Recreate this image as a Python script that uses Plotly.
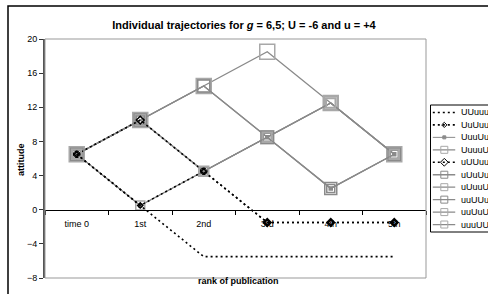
import plotly.graph_objects as go

# ---- data ----
categories = ["time 0", "1st", "2nd", "3rd", "4th", "5th"]
series_names = ["UUuuu", "UuUuu", "UuuUu", "UuuuU", "uUUuu",
                "uUuUu", "uUuuU", "uuUUu", "uuUuU", "uuuUU"]
UUuuu = [6.5, 0.5, -5.5, -5.5, -5.5, -5.5]
UuUuu = [6.5, 0.5, 4.5, -1.5, -1.5, -1.5]
UuuUu = [6.5, 0.5, 4.5, 8.5, 2.5, 6.5]
UuuuU = [6.5, 0.5, 4.5, 8.5, 12.5, 6.5]
uUUuu = [6.5, 10.5, 4.5, -1.5, -1.5, -1.5]
uUuUu = [6.5, 10.5, 4.5, 8.5, 2.5, 6.5]
uUuuU = [6.5, 10.5, 4.5, 8.5, 12.5, 6.5]
uuUUu = [6.5, 10.5, 14.5, 8.5, 2.5, 6.5]
uuUuU = [6.5, 10.5, 14.5, 8.5, 12.5, 6.5]
uuuUU = [6.5, 10.5, 14.5, 18.5, 12.5, 6.5]
series_values = [UUuuu, UuUuu, UuuUu, UuuuU, uUUuu,
                 uUuUu, uUuuU, uuUUu, uuUuU, uuuUU]
y_ticks = [-8, -4, 0, 4, 8, 12, 16, 20]

# ---- styles ----
GRAY = "#8a8a8a"
LGRAY = "#a8a8a8"
styles = [
    dict(color="black", dash="2px,3px", width=1.6, symbol=None, msize=0, mline="black", mfill="black"),
    dict(color="black", dash="2px,3px", width=1.6, symbol="diamond-open", msize=4, mline="black", mfill="black"),
    dict(color=GRAY, dash="solid", width=1.0, symbol="square", msize=3, mline=GRAY, mfill=GRAY),
    dict(color=GRAY, dash="solid", width=1.3, symbol="square-open", msize=9, mline=LGRAY, mfill=LGRAY),
    dict(color="black", dash="2px,3px", width=1.6, symbol="diamond-open", msize=6, mline="black", mfill="black"),
    dict(color=GRAY, dash="solid", width=1.3, symbol="square-open", msize=8, mline=GRAY, mfill=GRAY),
    dict(color=GRAY, dash="solid", width=1.3, symbol="square-open", msize=10, mline=LGRAY, mfill=LGRAY),
    dict(color=GRAY, dash="solid", width=1.3, symbol="square-open", msize=12, mline=GRAY, mfill=GRAY),
    dict(color=GRAY, dash="solid", width=1.3, symbol="square-open", msize=13, mline=LGRAY, mfill=LGRAY),
    dict(color=GRAY, dash="solid", width=1.3, symbol="square-open", msize=15, mline=LGRAY, mfill=LGRAY),
]

fig = go.Figure()

# main traces (reverse order so dashed black ones are on top)
for name, vals, st in reversed(list(zip(series_names, series_values, styles))):
    mode = "lines+markers" if st["symbol"] else "lines"
    marker = dict(symbol=st["symbol"], size=st["msize"], color=st["mfill"],
                  line=dict(color=st["mline"], width=1.5)) if st["symbol"] else None
    fig.add_trace(go.Scatter(x=categories, y=vals, name=name, mode=mode,
                             line=dict(color=st["color"], dash=st["dash"], width=st["width"]),
                             marker=marker, showlegend=False, xaxis="x", yaxis="y",
                             cliponaxis=False))

# custom legend (compact rows) on an auxiliary axis
for i, (name, st) in enumerate(zip(series_names, styles)):
    fig.add_trace(go.Scatter(x=[0.04, 0.43], y=[i, i], mode="lines",
                             line=dict(color=st["color"], dash=st["dash"], width=st["width"]),
                             showlegend=False, xaxis="x2", yaxis="y2", hoverinfo="skip"))
    if st["symbol"]:
        fig.add_trace(go.Scatter(x=[0.24], y=[i], mode="markers",
                                 marker=dict(symbol=st["symbol"], size=min(st["msize"], 7) if st["msize"] > 3 else 3,
                                             color=st["mfill"], line=dict(color=st["mline"], width=1)),
                                 showlegend=False, xaxis="x2", yaxis="y2", hoverinfo="skip"))
    fig.add_annotation(x=0.49, y=i, xref="x2", yref="y2", text=name, showarrow=False,
                       xanchor="left", yanchor="middle",
                       font=dict(family="Liberation Sans, Arial", size=9, color="black"))

W, H = 488, 294
L, R, T, B = 45, 0, 39, 16
pw = W - L - R
ph = H - T - B

def px_x(p):
    return (p - L) / pw

def px_y(p):
    return (H - B - p) / ph

fig.update_layout(
    template="none",
    width=W, height=H,
    margin=dict(l=L, r=R, t=T, b=B, pad=0, autoexpand=False),
    paper_bgcolor="white", plot_bgcolor="white",
    font=dict(family="Liberation Sans, Arial", size=9, color="black"),
    title=dict(text="<b>Individual trajectories for <i>g</i> = 6,5; U = -6 and u = +4</b>",
               x=244 / W, xref="container", xanchor="center",
               y=1 - 25 / H, yref="container", yanchor="middle",
               font=dict(family="Liberation Sans, Arial", size=11, color="black")),
    xaxis=dict(type="category", categoryorder="array", categoryarray=categories,
               range=[-0.5, 5.5], domain=[0, px_x(426)], automargin=False,
               anchor="free", position=(0 - y_ticks[0]) / (y_ticks[-1] - y_ticks[0]),
               tickson="boundaries", ticks="outside", ticklen=4, tickcolor="black",
               ticklabelstandoff=5,
               showline=True, linecolor="black", linewidth=1.2,
               showgrid=False, zeroline=False,
               tickfont=dict(size=9, color="black")),
    yaxis=dict(range=[y_ticks[0], y_ticks[-1]], tickvals=y_ticks, domain=[0, 1],
               anchor="x", ticks="outside", ticklen=4, tickcolor="#333333", automargin=False,
               showline=True, linecolor="#555555", linewidth=2,
               showgrid=False, zeroline=False,
               tickfont=dict(size=9, color="black")),
    xaxis2=dict(domain=[px_x(430.5), 1], range=[0, 1], visible=False, anchor="y2"),
    yaxis2=dict(domain=[px_y(232), px_y(105)], range=[9.6, -0.6], visible=False, anchor="x2"),
)

# plot area border
fig.add_shape(type="rect", xref="x domain", yref="y domain", x0=0, x1=1, y0=0, y1=1,
              line=dict(color="#999999", width=1), layer="above")
# legend box
fig.add_shape(type="rect", xref="paper", yref="paper", x0=px_x(430.5), x1=px_x(540),
              y0=px_y(232), y1=px_y(105), line=dict(color="black", width=1))
# outer chart border
fig.add_shape(type="rect", xref="paper", yref="paper", x0=px_x(8), x1=px_x(540),
              y0=px_y(330), y1=px_y(6), line=dict(color="black", width=1.5))

# axis titles
fig.add_annotation(text="<b>attitude</b>", xref="paper", yref="paper", x=px_x(14), y=px_y(160),
                   textangle=-90, showarrow=False, font=dict(size=9, color="black"))
fig.add_annotation(text="<b>rank of publication</b>", xref="paper", yref="paper", x=px_x(238), y=px_y(288),
                   showarrow=False, font=dict(size=9, color="black"))

fig.write_html("out.html", config={"displayModeBar": False},
               post_script="document.body.style.margin='0';")
